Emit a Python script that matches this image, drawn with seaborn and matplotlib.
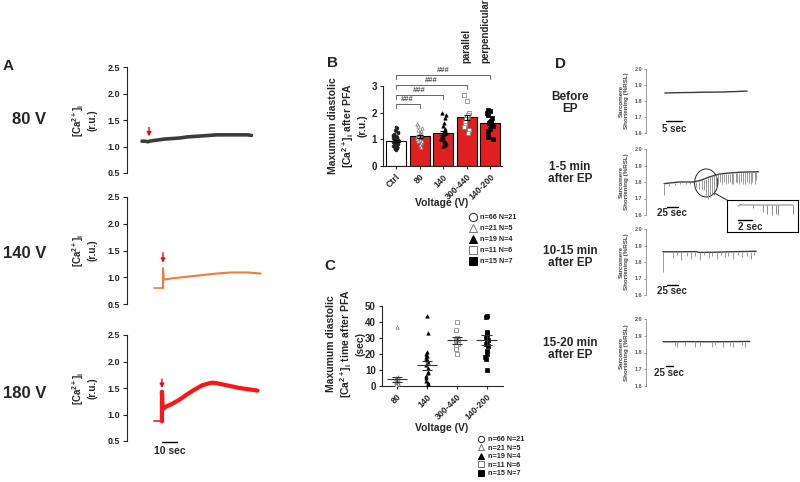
import matplotlib
matplotlib.use("Agg")
import matplotlib.pyplot as plt
import numpy as np
import seaborn as sns
from matplotlib.lines import Line2D
from matplotlib.patches import ConnectionPatch, Ellipse

sns.set_style("ticks")
plt.rcParams["font.family"] = ["Liberation Sans", "DejaVu Sans"]
plt.rcParams["font.weight"] = "bold"
plt.rcParams["mathtext.fontset"] = "custom"
plt.rcParams["mathtext.rm"] = "Liberation Sans:bold"
plt.rcParams["mathtext.it"] = "Liberation Sans:bold"
plt.rcParams["mathtext.bf"] = "Liberation Sans:bold"
plt.rcParams["mathtext.default"] = "rm"
np.random.seed(3)  # strip jitter only

# ---- panel A: [Ca2+]i traces, time in s, values in r.u. ----
t_80v = [10, 12, 14, 15, 17, 20, 25, 30, 35, 40, 45, 50, 55, 60, 65, 70, 75, 80, 83]
ca_80v = [1.10, 1.10, 1.09, 1.10, 1.11, 1.12, 1.14, 1.15, 1.16, 1.18, 1.19, 1.20,
          1.21, 1.22, 1.22, 1.22, 1.22, 1.22, 1.21]
t_140v_base = [18, 24]
ca_140v_base = [0.80, 0.80]
t_140v = [24, 24, 24.5, 26, 30, 40, 50, 60, 70, 80, 89]
ca_140v = [0.80, 1.17, 0.96, 0.96, 0.98, 1.01, 1.04, 1.07, 1.09, 1.09, 1.07]
t_180v_base = [18, 23.3]
ca_180v_base = [0.87, 0.87]
t_180v = [23.3, 23.3, 23.8, 26, 30, 35, 40, 45, 50, 55, 57, 60, 65, 70, 75, 80, 85, 87]
ca_180v = [0.87, 1.43, 1.10, 1.15, 1.20, 1.28, 1.38, 1.47, 1.55, 1.59, 1.60, 1.59,
           1.56, 1.53, 1.50, 1.48, 1.46, 1.45]
stim_times = [14.7, 24, 23.3]
arrow_tips = [1.19, 1.27, 1.50]
arrow_tails = [1.36, 1.46, 1.67]
ca_ticks = [0.5, 1.0, 1.5, 2.0, 2.5]

# ---- panel B: max diastolic [Ca2+]i after PFA ----
cats_b = ["Ctrl", "80", "140", "300-440", "140-200"]
mean_b = [0.93, 1.11, 1.23, 1.83, 1.60]
sem_b = [0.03, 0.05, 0.07, 0.10, 0.08]
pts_ctrl = [1.48, 1.42, 1.36, 1.31, 1.27, 1.24, 1.21, 1.18, 1.16, 1.14,
            1.12, 1.10, 1.09, 1.08, 1.06, 1.05, 1.04, 1.03, 1.02, 1.01,
            1.00, 0.99, 0.99, 0.98, 0.97, 0.96, 0.96, 0.95, 0.94, 0.94,
            0.93, 0.92, 0.92, 0.91, 0.90, 0.90, 0.89, 0.88, 0.88, 0.87,
            0.86, 0.86, 0.85, 0.84, 0.84, 0.83, 0.82, 0.81, 0.80, 0.80,
            0.79, 0.78, 0.77, 0.76, 0.75, 0.74, 0.73, 0.72, 0.71, 0.70,
            0.69, 0.67, 0.66, 0.64, 0.62, 0.60]
pts_80 = [1.58, 1.50, 1.42, 1.35, 1.30, 1.25, 1.20, 1.18, 1.15, 1.12, 1.10,
          1.08, 1.05, 1.02, 1.00, 0.97, 0.95, 0.92, 0.88, 0.80, 0.70]
pts_140 = [1.98, 1.90, 1.80, 1.60, 1.50, 1.40, 1.35, 1.30, 1.25, 1.20,
           1.15, 1.10, 1.05, 1.00, 0.95, 0.90, 0.85, 0.80, 0.75]
pts_300_440 = [2.65, 2.42, 2.00, 1.92, 1.85, 1.75, 1.65, 1.55, 1.45, 1.35, 1.25]
pts_140_200 = [2.10, 2.05, 2.00, 1.90, 1.80, 1.70, 1.65, 1.60, 1.55, 1.50,
               1.40, 1.30, 1.20, 1.10, 1.00]
bracket_to = [1, 2, 3, 4]
bracket_y = [2.32, 2.66, 3.03, 3.41]

# ---- panel C: time to max diastolic [Ca2+]i (s) ----
cats_c = ["80", "140", "300-440", "140-200"]
time_80 = [37, 5.5, 5, 4.5, 4, 3.5, 3, 2.5, 2, 1.5, 1, 0.5]
time_140 = [44, 33, 21, 20, 19, 18, 17, 16, 15, 13, 11, 9, 8, 6, 5, 3, 2, 1, 0]
time_300_440 = [40, 35, 30, 29, 28.5, 28, 27, 26, 25, 23, 20]
time_140_200 = [44, 43, 34, 33, 32, 30, 29, 28, 26, 25, 22, 20, 18, 17, 10]
mean_c = [4.2, 13.0, 28.5, 28.6]
sem_c = [1.7, 2.7, 2.0, 3.0]

legend_labels = ["n=66 N=21", "n=21 N=5", "n=19 N=4", "n=11 N=6", "n=15 N=7"]
markers = ["o", "^", "^", "s", "s"]
faces = ["white", "white", "black", "white", "black"]
edges = ["#222222", "#777777", "black", "#777777", "black"]

# ---- panel D: sarcomere shortening (%RSL), time in s ----
t_before = [5.9, 8, 10, 12, 14, 16, 18, 20, 22, 24, 26, 28, 30, 31.6]
sl_before = [1.850, 1.851, 1.852, 1.853, 1.853, 1.854, 1.855, 1.855, 1.856,
             1.856, 1.858, 1.859, 1.861, 1.862]

t_1_5 = [43, 60, 80, 100, 112, 130, 150, 170, 180, 200, 230, 267]
sl_1_5 = [1.79, 1.795, 1.80, 1.80, 1.80, 1.81, 1.83, 1.845, 1.85, 1.855, 1.86, 1.862]
spk_t_1_5 = [43, 55, 68, 80, 95, 105, 118, 125, 132, 138, 143, 148, 152, 157, 162, 167,
             172, 177, 181, 186, 190, 195, 199, 204, 208, 213, 217, 222, 226, 231,
             235, 240, 244, 249, 253, 258, 262]
spk_hi_1_5 = [1.79, 1.79, 1.795, 1.80, 1.80, 1.80, 1.80, 1.805, 1.81, 1.815, 1.82,
              1.825, 1.83, 1.835, 1.84, 1.845, 1.85, 1.85, 1.85, 1.85, 1.85, 1.85,
              1.85, 1.855, 1.855, 1.855, 1.855, 1.855, 1.855, 1.86, 1.86, 1.86,
              1.86, 1.86, 1.86, 1.86, 1.862]
spk_lo_1_5 = [1.72, 1.775, 1.78, 1.785, 1.79, 1.785, 1.77, 1.76, 1.76, 1.75, 1.72,
              1.70, 1.71, 1.73, 1.72, 1.77, 1.79, 1.80, 1.785, 1.80, 1.79, 1.795,
              1.80, 1.785, 1.79, 1.80, 1.795, 1.79, 1.80, 1.785, 1.79, 1.80,
              1.795, 1.79, 1.80, 1.79, 1.81]

t_10_15 = [40, 80, 120, 125, 160, 200, 262]
sl_10_15 = [1.862, 1.862, 1.863, 1.858, 1.859, 1.862, 1.865]
spk_t_10_15 = [41, 64, 74, 83, 98, 107, 117, 129, 138, 150, 157, 169, 179, 188, 195,
               207, 219, 229, 240, 250, 257]
spk_lo_10_15 = [1.74, 1.825, 1.84, 1.815, 1.835, 1.82, 1.835, 1.81, 1.84, 1.825, 1.835,
                1.82, 1.84, 1.83, 1.835, 1.82, 1.84, 1.83, 1.835, 1.82, 1.84]

t_15_20 = [61, 150, 250, 371]
sl_15_20 = [1.864, 1.865, 1.864, 1.866]
spk_t_15_20 = [104, 111, 139, 175, 193, 236, 246, 275, 300, 311, 343, 354]
spk_lo_15_20 = [1.84, 1.835, 1.84, 1.83, 1.84, 1.835, 1.845, 1.835, 1.84, 1.835, 1.845, 1.835]

t_inset = [1.6, 1.9, 2.2, 9.4]
sl_inset = [1.830, 1.840, 1.837, 1.837]
spk_t_inset = [3.7, 5.1, 5.7, 6.4, 7.0, 7.3, 9.4]
spk_lo_inset = [1.815, 1.79, 1.775, 1.77, 1.775, 1.77, 1.775]

d_row_labels = ["Before\nEP", "1-5 min\nafter EP", "10-15 min\nafter EP", "15-20 min\nafter EP"]
d_bar_labels = ["5 sec", "25 sec", "25 sec", "25 sec"]
d_bar_len = [5, 25, 25, 25]

W, H = 800, 482
fig = plt.figure(figsize=(W / 100, H / 100), dpi=100)


def px_axes(x0, y0, x1, y1):
    return fig.add_axes([x0 / W, 1 - y1 / H, (x1 - x0) / W, (y1 - y0) / H])


def fig_text(x, y, s, **kw):
    kw.setdefault("fontweight", "bold")
    return fig.text(x / W, 1 - y / H, s, **kw)


for x, y, s in [(8, 66, "A"), (333, 63, "B"), (330, 266, "C"), (561, 64, "D")]:
    fig_text(x, y, s, fontsize=11, ha="center", va="center")

# ---------------- panel A ----------------
a_traces = [
    (None, None, t_80v, ca_80v, "#3c3c3c", 2.6),
    (t_140v_base, ca_140v_base, t_140v, ca_140v, "#f07d3c", 1.5),
    (t_180v_base, ca_180v_base, t_180v, ca_180v, "#ff1414", 3.0),
]
a_rows = [(67, 173), (197, 304), (335, 441)]
a_names = ["80 V", "140 V", "180 V"]
a_name_y = [119, 254, 393]
for i, (tb, cb, t, ca, color, lw) in enumerate(a_traces):
    y0, y1 = a_rows[i]
    ax = px_axes(127, y0, 265, y1)
    if tb is not None:
        sns.lineplot(x=tb, y=cb, color=color, linewidth=1.2, estimator=None, sort=False, ax=ax)
    sns.lineplot(x=t, y=ca, color=color, linewidth=lw, estimator=None, sort=False, ax=ax)
    ax.annotate("", xy=(stim_times[i], arrow_tips[i]), xytext=(stim_times[i], arrow_tails[i]),
                arrowprops=dict(arrowstyle="-|>", color="red", lw=1.0, mutation_scale=6,
                                shrinkA=0, shrinkB=0))
    ax.set_xlim(0, 92)
    ax.set_ylim(0.5, 2.5)
    ax.set_xticks([])
    ax.set_yticks(ca_ticks, [f"{v:.1f}" for v in ca_ticks], fontsize=6.5, fontweight="bold")
    ax.tick_params(axis="y", length=3, width=0.8, pad=2)
    ax.set_xlabel("")
    ax.set_ylabel("")
    sns.despine(ax=ax, bottom=True)
    ax.spines["left"].set_linewidth(0.8)
    fig_text(46, a_name_y[i], a_names[i], fontsize=12, ha="right", va="center")
    fig_text(84, (y0 + y1) / 2, "[Ca$^{2+}$]$_i$\n(r.u.)", fontsize=7, rotation=90,
             ha="center", va="center", multialignment="center")
    if i == 2:
        ax.plot([stim_times[i], stim_times[i] + 10], [0.475, 0.475], color="black", lw=1.0,
                clip_on=False)
        ax.text(stim_times[i] + 5, 0.31, "10 sec", fontsize=7.5, fontweight="bold",
                ha="center", va="center", clip_on=False)

# ---------------- panel B ----------------
ax_b = px_axes(383, 86, 502, 166)
sns.barplot(x=cats_b, y=mean_b, hue=cats_b, palette=["white"] + ["#ff0000"] * 4,
            legend=False, width=0.85, edgecolor="black", linewidth=0.8, errorbar=None, ax=ax_b)
b_points = [pts_ctrl, pts_80, pts_140, pts_300_440, pts_140_200]
b_sizes = [2.0, 2.4, 2.4, 2.4, 2.6]
for i, vals in enumerate(b_points):
    sns.stripplot(x=[cats_b[i]] * len(vals), y=vals, order=cats_b, marker=markers[i],
                  color=faces[i] if i else "#222222", edgecolor=edges[i], linewidth=0.5,
                  size=b_sizes[i], jitter=0.13, ax=ax_b, zorder=3)
ax_b.errorbar(range(len(cats_b)), mean_b, yerr=sem_b, fmt="none", ecolor="black",
              elinewidth=0.8, capsize=2.5, capthick=0.8, zorder=4)
for end, yb in zip(bracket_to, bracket_y):
    ax_b.plot([0, 0, end, end], [yb - 0.15, yb, yb, yb - 0.15], color="#666666", lw=0.7,
              clip_on=False)
    ax_b.text(end / 2, yb + 0.04, "###", fontsize=5.5, color="#555555", ha="center",
              va="bottom", clip_on=False)
ax_b.text(3, 3.86, "parallel", rotation=90, fontsize=7, ha="center", va="bottom", clip_on=False)
ax_b.text(3.8, 3.86, "perpendicular", rotation=90, fontsize=7, ha="center", va="bottom",
          clip_on=False)
ax_b.set_ylim(0, 3)
ax_b.set_xlim(-0.55, 4.5)
ax_b.set_yticks([0, 1, 2, 3], ["0", "1", "2", "3"], fontsize=7, fontweight="bold")
ax_b.set_xticks(range(len(cats_b)), cats_b, rotation=45, ha="right", rotation_mode="anchor",
                fontsize=6.3, fontweight="bold")
ax_b.tick_params(length=2.5, width=0.8, pad=2)
ax_b.set_xlabel("")
ax_b.set_ylabel("")
sns.despine(ax=ax_b)
for s in ["left", "bottom"]:
    ax_b.spines[s].set_linewidth(0.8)
fig_text(442, 203, "Voltage (V)", fontsize=7.5, ha="center", va="center")
fig_text(348, 126, "Maxumum diastolic\n[Ca$^{2+}$]$_i$ after PFA\n(r.u.)", fontsize=7.5,
         rotation=90, ha="center", va="center", multialignment="center")

# ---------------- panel C ----------------
ax_c = px_axes(382, 306, 503, 386)
c_points = [time_80, time_140, time_300_440, time_140_200]
for i, vals in enumerate(c_points):
    sns.stripplot(x=[cats_c[i]] * len(vals), y=vals, order=cats_c, marker=markers[i + 1],
                  color=faces[i + 1], edgecolor=edges[i + 1], linewidth=0.5, size=2.4,
                  jitter=0.04, ax=ax_c, zorder=3)
pos_c = np.arange(len(cats_c))
ax_c.hlines(mean_c, pos_c - 0.34, pos_c + 0.34, color="#333333", lw=0.8, zorder=4)
ax_c.hlines(np.add(mean_c, sem_c), pos_c - 0.17, pos_c + 0.17, color="#333333", lw=0.8, zorder=4)
ax_c.hlines(np.subtract(mean_c, sem_c), pos_c - 0.17, pos_c + 0.17, color="#333333", lw=0.8,
            zorder=4)
ax_c.vlines(pos_c, np.subtract(mean_c, sem_c), np.add(mean_c, sem_c), color="#333333", lw=0.8,
            zorder=4)
ax_c.set_ylim(0, 50)
ax_c.set_xlim(-0.5, 3.55)
ax_c.set_yticks([0, 10, 20, 30, 40, 50], ["0", "10", "20", "30", "40", "50"], fontsize=7,
                fontweight="bold")
ax_c.set_xticks(pos_c, cats_c, rotation=45, ha="right", rotation_mode="anchor", fontsize=6.3,
                fontweight="bold")
ax_c.tick_params(length=2.5, width=0.8, pad=2)
ax_c.set_xlabel("")
ax_c.set_ylabel("")
sns.despine(ax=ax_c)
for s in ["left", "bottom"]:
    ax_c.spines[s].set_linewidth(0.8)
fig_text(442, 428, "Voltage (V)", fontsize=7.5, ha="center", va="center")
fig_text(346, 344, "Maxumum diastolic\n[Ca$^{2+}$]$_i$ time after PFA\n(sec)", fontsize=7.5,
         rotation=90, ha="center", va="center", multialignment="center")

# legends for B and C
for (lx, ly, ms, sp) in [(470, 214, 6, 0.55), (478, 436, 4.5, 0.2)]:
    handles = [Line2D([], [], ls="none", marker=markers[k], markersize=ms,
                      markerfacecolor=faces[k], markeredgecolor=edges[k], markeredgewidth=0.7)
               for k in range(5)]
    fig.legend(handles, legend_labels, loc="upper left", bbox_to_anchor=(lx / W, 1 - ly / H),
               frameon=False, prop={"size": 5.2, "weight": "bold"}, handlelength=0.9,
               handletextpad=0.5, labelspacing=sp, borderpad=0, borderaxespad=0)

# ---------------- panel D ----------------
d_traces = [
    (t_before, sl_before, [], [], []),
    (t_1_5, sl_1_5, spk_t_1_5, spk_hi_1_5, spk_lo_1_5),
    (t_10_15, sl_10_15, spk_t_10_15, [1.862] * len(spk_t_10_15), spk_lo_10_15),
    (t_15_20, sl_15_20, spk_t_15_20, [1.865] * len(spk_t_15_20), spk_lo_15_20),
]
d_rows = [(69, 133), (149, 215), (229, 295), (319, 386)]
d_xmax = [35.6, 271, 271, 407]
d_bar_start = [6.25, 50, 50, 71]
d_bar_y = [1.675, 1.648, 1.66, 1.72]
d_txt_y = [1.628, 1.61, 1.622, 1.676]
d_label_y = [103.5, 173.5, 257.5, 349]
d_axes = []
for i, (t, v, st, shi, slo) in enumerate(d_traces):
    y0, y1 = d_rows[i]
    ax = px_axes(646, y0, 760, y1)
    d_axes.append(ax)
    sns.lineplot(x=t, y=v, color="#3a3a3a", linewidth=1.0, estimator=None, sort=False, ax=ax)
    if st:
        ax.vlines(st, slo, shi, color="#8a8a8a", lw=0.6)
    ax.plot([d_bar_start[i], d_bar_start[i] + d_bar_len[i]], [d_bar_y[i]] * 2, color="black",
            lw=1.0, clip_on=False)
    ax.text(d_bar_start[i] + d_bar_len[i] / 2, d_txt_y[i], d_bar_labels[i], fontsize=7,
            ha="center", va="center", clip_on=False)
    ax.set_xlim(0, d_xmax[i])
    ax.set_ylim(1.6, 2.0)
    ax.set_xticks([])
    ax.set_yticks([1.6, 1.7, 1.8, 1.9, 2.0], ["1.6", "1.7", "1.8", "1.9", "2.0"], fontsize=4,
                  color="#555555")
    ax.tick_params(axis="y", length=1.5, width=0.5, pad=1, color="#777777")
    ax.set_xlabel("")
    ax.set_ylabel("")
    sns.despine(ax=ax, bottom=True)
    ax.spines["left"].set_linewidth(0.5)
    ax.spines["left"].set_color("#777777")
    fig_text(624, (y0 + y1) / 2, "Sarcomere\nShortening (%RSL)", fontsize=4.5, color="#444444",
             rotation=90, ha="center", va="center", multialignment="center")
    fig_text(570, d_label_y[i], d_row_labels[i], fontsize=8.5, ha="center", va="center",
             multialignment="center", linespacing=1.0)

# zoom circle and inset on the 1-5 min trace
ax_d1 = d_axes[1]
ax_d1.add_patch(Ellipse((143, 1.794), width=55, height=0.17, fill=False, edgecolor="#222222",
                        lw=0.7))
ax_in = px_axes(727, 200, 798, 232)
sns.lineplot(x=t_inset, y=sl_inset, color="#8a8a8a", linewidth=0.8, estimator=None, sort=False,
             ax=ax_in)
ax_in.vlines(spk_t_inset, spk_lo_inset, [1.837] * len(spk_t_inset), color="#8a8a8a", lw=0.7)
ax_in.plot([1.6, 3.6], [1.738, 1.738], color="black", lw=1.0)
ax_in.text(1.6, 1.692, "2 sec", fontsize=7, ha="left", va="center")
ax_in.set_xlim(0, 10.1)
ax_in.set_ylim(1.66, 1.87)
ax_in.set_xticks([])
ax_in.set_yticks([])
ax_in.set_xlabel("")
ax_in.set_ylabel("")
for s in ax_in.spines.values():
    s.set_visible(True)
    s.set_linewidth(0.8)
    s.set_color("black")
fig.add_artist(ConnectionPatch(xyA=(162, 1.734), coordsA="data", axesA=ax_d1,
                               xyB=(0, 1), coordsB="axes fraction", axesB=ax_in,
                               color="#222222", lw=0.7))

fig.savefig("out.png", dpi=100)
